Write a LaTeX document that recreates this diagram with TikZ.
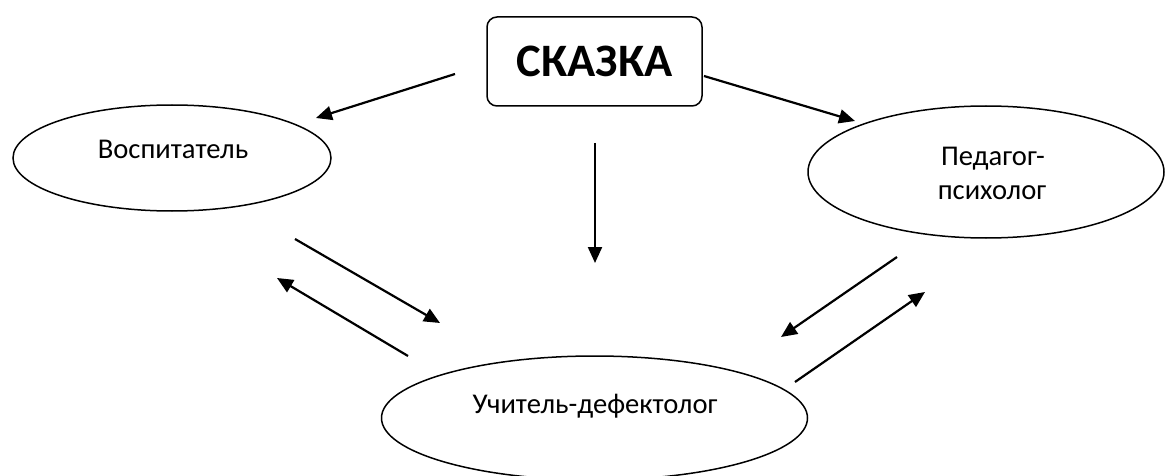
\documentclass[tikz,border=0pt]{standalone}
\usepackage{fontspec}
\setmainfont{Carlito}
\usetikzlibrary{arrows.meta,shapes.geometric}
\begin{document}
\begin{tikzpicture}[x=1pt,y=-1pt,
  oval/.style={ellipse,draw,line width=1.5pt,inner sep=0pt},
  lbl/.style={font=\fontsize{28.6}{34}\selectfont,inner sep=0pt,align=center},
  arr/.style={line width=2.2pt,-{Triangle[length=16pt,width=14pt]}},
]
\useasboundingbox (0,0) rectangle (1165,476);
% nodes
\node[draw,rounded corners=10pt,line width=1.5pt,minimum width=215pt,minimum height=89pt,inner sep=0pt,
      font=\bfseries\fontsize{46.5}{55}\selectfont] (skazka) at (594.5,61.5) {СКАЗКА};
\node[oval,minimum width=318pt,minimum height=106pt] (vosp) at (172,158) {};
\node[lbl,anchor=base] (vospt) at (173,159) {Воспитатель};
\node[oval,minimum width=356pt,minimum height=132pt] (ped) at (986,172) {};
\node[lbl,anchor=base] (pedt1) at (993,166) {Педагог-};
\node[lbl,anchor=base] (pedt2) at (992,200) {психолог};
\node[oval,minimum width=426pt,minimum height=124pt] (uch) at (594.5,418) {};
\node[lbl,anchor=base] (ucht) at (595,413) {Учитель-дефектолог};
% arrow end points
\coordinate (a1s) at (455,74);  \coordinate (a1e) at (316,118);
\coordinate (a2s) at (704,76);  \coordinate (a2e) at (855,121);
\coordinate (a3s) at (595,143); \coordinate (a3e) at (595,263);
\coordinate (a4s) at (295,239); \coordinate (a4e) at (440,323);
\coordinate (a5s) at (408,356); \coordinate (a5e) at (277,278);
\coordinate (a6s) at (897,257); \coordinate (a6e) at (781,337);
\coordinate (a7s) at (795,382); \coordinate (a7e) at (925,292);
% connectors
\draw[arr] (a1s) -- (a1e);
\draw[arr] (a2s) -- (a2e);
\draw[arr] (a3s) -- (a3e);
\draw[arr] (a4s) -- (a4e);
\draw[arr] (a5s) -- (a5e);
\draw[arr] (a6s) -- (a6e);
\draw[arr] (a7s) -- (a7e);
\end{tikzpicture}
\end{document}
